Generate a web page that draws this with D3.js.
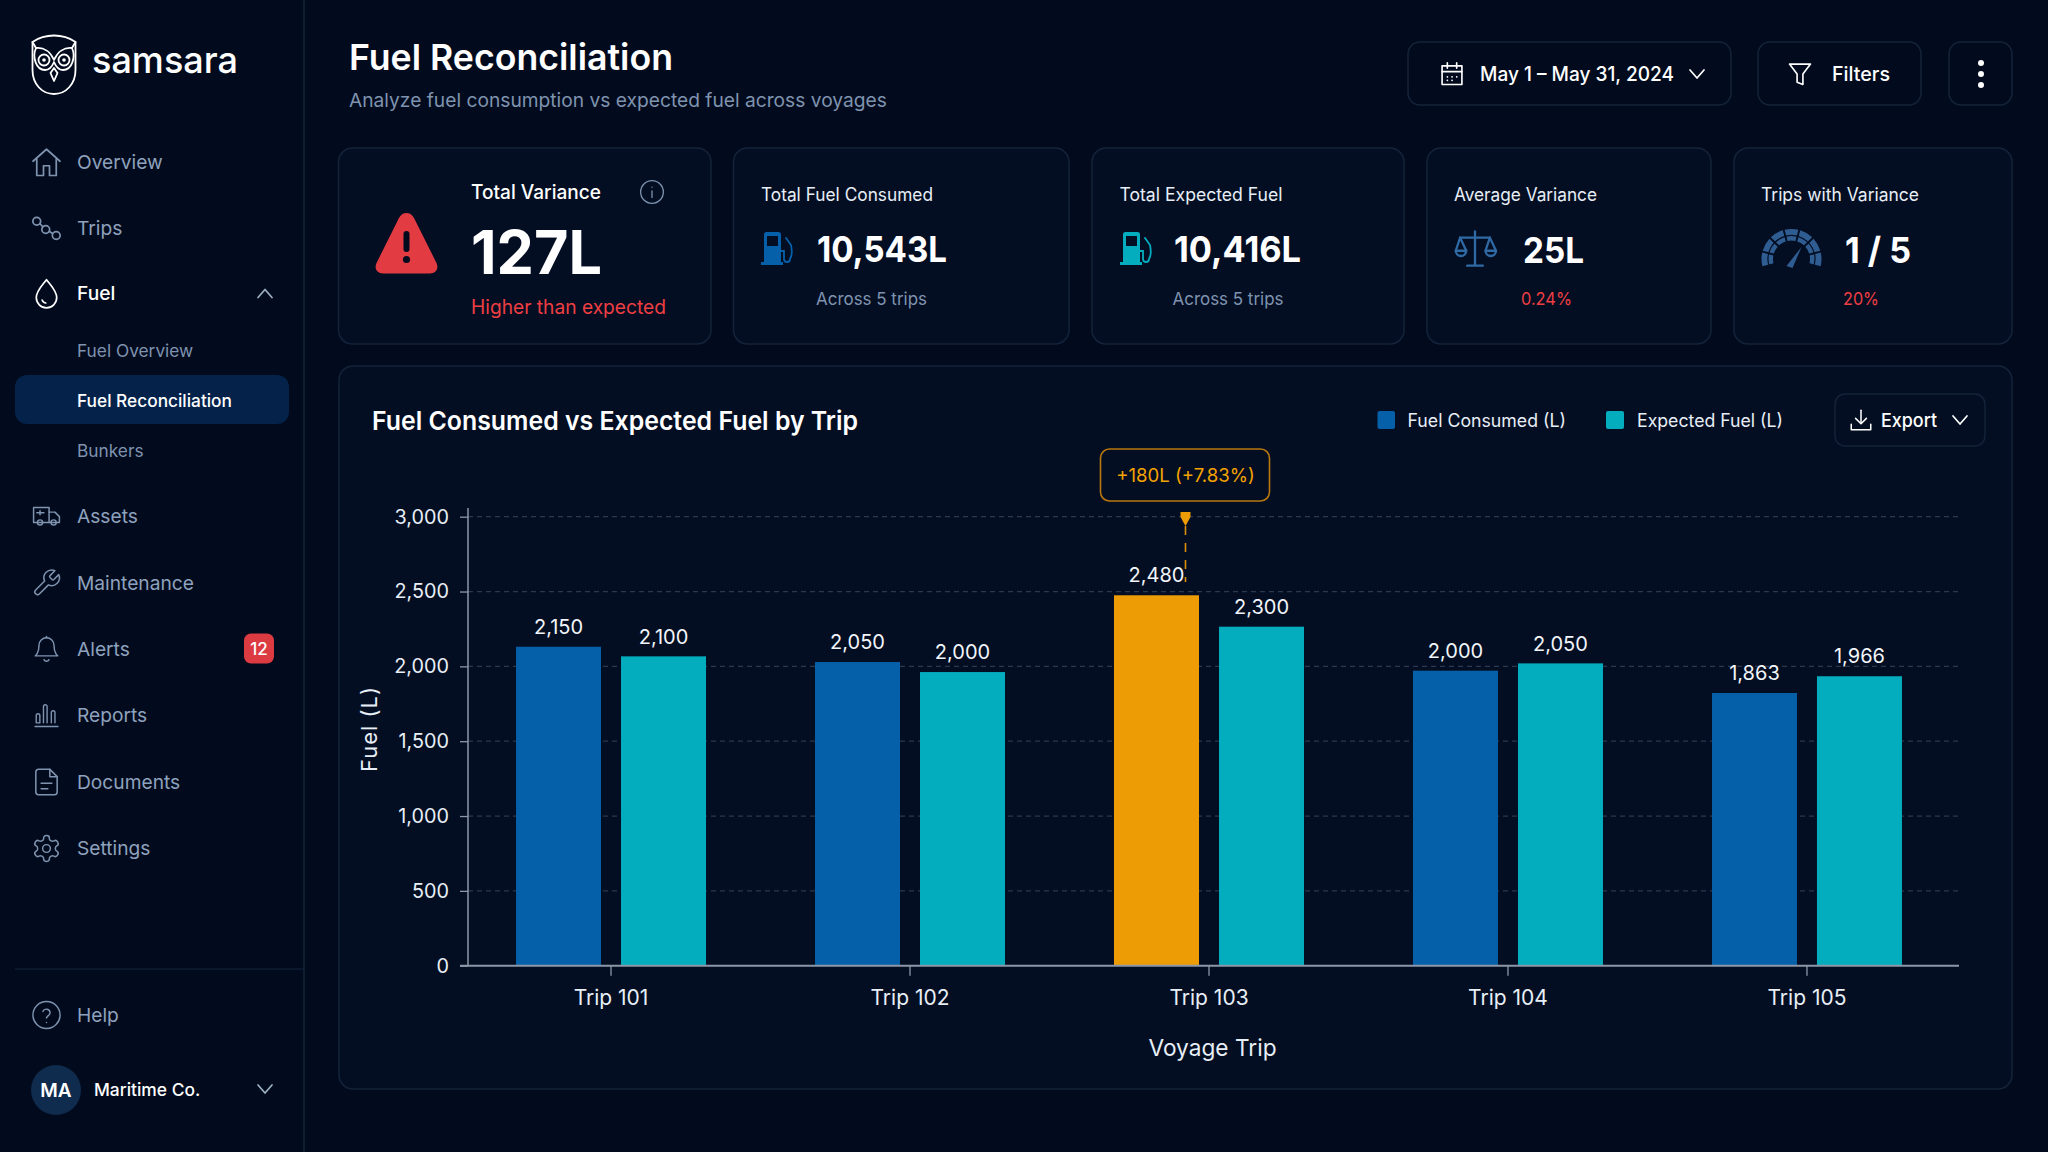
<!DOCTYPE html>
<html><head><meta charset="utf-8">
<script src="https://cdn.jsdelivr.net/npm/d3@7/dist/d3.min.js"></script>
<style>html,body{margin:0;padding:0;background:#020b1e;overflow:hidden}svg{display:block}text{font-family:Inter,"Noto Sans",sans-serif}</style>
</head><body><div id="app"></div>
<script>
// ---- chart data ----
const trips = ["Trip 101","Trip 102","Trip 103","Trip 104","Trip 105"];
const seriesNames = ["Fuel Consumed (L)","Expected Fuel (L)"];
// values printed above the bars
const consumedLabels = [2150,2050,2480,2000,1863];
const expectedLabels = [2100,2000,2300,2050,1966];
// bar heights as they are drawn in the picture, read against the y axis
const consumedDrawn = [2131,2029,2475,1971,1822];
const expectedDrawn = [2067,1962,2265,2020,1934];
const yTicks = [0,500,1000,1500,2000,2500,3000];
const highlightTrip = "Trip 103";
const annotation = "+180L (+7.83%)";
// ---- page text ----
const mainNav = ["Overview","Trips","Fuel","Assets","Maintenance","Alerts","Reports","Documents","Settings"];
const subNav = ["Fuel Overview","Fuel Reconciliation","Bunkers"];

const C={bg:"#020b1e",card:"#030e23",line:"#14233a",muted:"#7f93af",nav:"#8fa2bd",white:"#ffffff",text:"#e8eef6",
  blue:"#0560a9",teal:"#03adbe",amber:"#ee9c06",red:"#ef3e42",grid:"#2a394f",axis:"#8d97a8",icon:"#7f93af"};
const svg=d3.select("#app").append("svg").attr("width",2048).attr("height",1152).attr("viewBox","0 0 2048 1152");
svg.append("rect").attr("width",2048).attr("height",1152).attr("fill",C.bg);

function T(x,y,s,o={}){const t=svg.append("text").attr("x",x).attr("y",y).attr("dy",".36em").text(s)
  .attr("font-size",o.size||20).attr("font-weight",o.w||400).attr("fill",o.fill||C.text).attr("text-anchor",o.a||"start")
  .attr("letter-spacing",o.ls||null);
  if(o.tw) t.attr("textLength",o.tw).attr("lengthAdjust","spacingAndGlyphs");
  return t;}
function box(x0,y0,x1,y1,r,o={}){return svg.append("rect").attr("x",x0).attr("y",y0).attr("width",x1-x0).attr("height",y1-y0).attr("rx",r)
  .attr("fill",o.fill||C.card).attr("stroke",o.stroke||C.line).attr("stroke-width",o.sw||1.5);}
function icon(cx,cy,size,vb,parts,o={}){const k=size/vb;const g=svg.append("g").attr("transform",`translate(${cx-size/2},${cy-size/2}) scale(${k})`)
  .attr("fill",o.fill||"none").attr("stroke",o.stroke===undefined?C.icon:o.stroke).attr("stroke-width",o.sw||1.5).attr("stroke-linecap","round").attr("stroke-linejoin","round");
  parts.forEach(p=>{ if(typeof p==="string") g.append("path").attr("d",p); else g.append("circle").attr("cx",p[0]).attr("cy",p[1]).attr("r",p[2]);});return g;}
const chev=(cx,cy,up,col)=>svg.append("path").attr("d",up?`M${cx-7} ${cy+4}L${cx} ${cy-4}L${cx+7} ${cy+4}`:`M${cx-7} ${cy-4}L${cx} ${cy+4}L${cx+7} ${cy-4}`)
  .attr("fill","none").attr("stroke",col||C.nav).attr("stroke-width",1.7).attr("stroke-linecap","round").attr("stroke-linejoin","round");

// ---- sidebar ----
svg.append("line").attr("x1",304).attr("x2",304).attr("y1",0).attr("y2",1152).attr("stroke","#15243b").attr("stroke-width",1.5);
svg.append("line").attr("x1",15).attr("x2",304).attr("y1",969).attr("y2",969).attr("stroke","#15243b").attr("stroke-width",1.2);
// owl
const owl=svg.append("g").attr("fill","none").attr("stroke","#fff").attr("stroke-width",1.8).attr("stroke-linejoin","round").attr("stroke-linecap","round");
["M32.5 42C39 37.5 46 35.5 54 35.5C62 35.5 69 37.5 75.5 42L75.5 70C75.5 84 66 94 54 94C42 94 32.5 84 32.5 70Z",
 "M32.5 42L36 48C44 47 50.5 52 54 60C57.5 52 64 47 72 48L75.5 42",
 "M36 48C32 57 36 70 45 70C49 70 52 67 54 62C56 67 59 70 63 70C72 70 76 57 72 48",
 "M54 68L57.5 73L54 81L50.5 73Z"].forEach(d=>owl.append("path").attr("d",d));
[[44,60,5.5],[64,60,5.5]].forEach(c=>owl.append("circle").attr("cx",c[0]).attr("cy",c[1]).attr("r",c[2]));
[[44,60,1.8],[64,60,1.8]].forEach(c=>owl.append("circle").attr("cx",c[0]).attr("cy",c[1]).attr("r",c[2]).attr("fill","#fff").attr("stroke","none"));
T(92,60,"samsara",{size:37,w:500,fill:"#fff",tw:146}).attr("font-family","Lato");

const navY={Overview:162,Trips:228,Fuel:293.5,Assets:516,Maintenance:583,Alerts:649,Reports:715,Documents:782,Settings:848.5};
const navSize={Overview:36,Trips:36,Fuel:35,Assets:31,Maintenance:31,Alerts:30,Reports:29,Documents:32,Settings:31};
const navIcons={
 Overview:["M3 11.5L12 3.5L21 11.5","M5.5 10V21H10V14.5H14V21H18.5V10"],
 Trips:[[5.5,7.5,2.6],[18.5,17,2.6],[11.5,13,2.6],"M7.6 9L9.6 11.3","M13.8 14.2L16 15.6"],
 Fuel:["M12 2.5C15 6.5 19 10.2 19 14.8A7 7 0 0 1 5 14.8C5 10.2 9 6.5 12 2.5Z","M9 16.5C9.5 17.8 10.5 18.5 11.5 18.5"],
 Assets:["M2 5.5H14V17H2Z","M14 9H18.5L22 12.5V17H14","M4.5 9.5H10","M7 8V11"," M5 17a2 2 0 1 0 4 0a2 2 0 1 0-4 0"," M15.5 17a2 2 0 1 0 4 0a2 2 0 1 0-4 0"],
 Maintenance:["M14.7 6.3a1 1 0 0 0 0 1.4l1.6 1.6a1 1 0 0 0 1.4 0l3.77-3.77a6 6 0 0 1-7.94 7.94l-6.91 6.91a2.12 2.12 0 0 1-3-3l6.91-6.91a6 6 0 0 1 7.94-7.94l-3.76 3.76z"],
 Alerts:["M6 9a6 6 0 0 1 12 0c0 6.5 3 8.5 3 8.5H3s3-2 3-8.5","M10 20.5a2.2 2.2 0 0 0 4 0","M12 3V2"],
 Reports:["M2.5 21.5H21.5","M3.5 18.5V12.5a1.5 1.5 0 0 1 3 0V18.5H3.5","M9.5 18.5V5a1.5 1.5 0 0 1 3 0V18.5","M16 18.5V10a1.5 1.5 0 0 1 3 0V18.5"],
 Documents:["M14.5 2.5H6a2 2 0 0 0-2 2v15a2 2 0 0 0 2 2h12a2 2 0 0 0 2-2V8L14.5 2.5Z","M14.5 2.5V8H20","M8 13H16","M8 17H13"],
 Settings:["M12.22 2h-.44a2 2 0 0 0-2 2v.18a2 2 0 0 1-1 1.73l-.43.25a2 2 0 0 1-2 0l-.15-.08a2 2 0 0 0-2.73.73l-.22.38a2 2 0 0 0 .73 2.73l.15.1a2 2 0 0 1 1 1.72v.51a2 2 0 0 1-1 1.74l-.15.09a2 2 0 0 0-.73 2.73l.22.38a2 2 0 0 0 2.73.73l.15-.08a2 2 0 0 1 2 0l.43.25a2 2 0 0 1 1 1.73V20a2 2 0 0 0 2 2h.44a2 2 0 0 0 2-2v-.18a2 2 0 0 1 1-1.73l.43-.25a2 2 0 0 1 2 0l.15.08a2 2 0 0 0 2.73-.73l.22-.39a2 2 0 0 0-.73-2.73l-.15-.08a2 2 0 0 1-1-1.74v-.5a2 2 0 0 1 1-1.74l.15-.09a2 2 0 0 0 .73-2.73l-.22-.38a2 2 0 0 0-2.73-.73l-.15.08a2 2 0 0 1-2 0l-.43-.25a2 2 0 0 1-1-1.73V4a2 2 0 0 0-2-2z",[12,12,3]]
};
box(15,375,289,424,12,{fill:"#04224a",stroke:"none"});
mainNav.forEach(n=>{const act=n==="Fuel";T(77,navY[n],n,{size:19.2,w:act?500:400,fill:act?"#fff":C.nav});
  icon(46.5,navY[n],navSize[n],24,navIcons[n],{stroke:act?"#fff":C.icon,sw:1.15});});
chev(265,293.5,true,"#9fb0c6");
subNav.forEach((n,i)=>{const act=i===1;T(77,[350.7,400.3,450.3][i],n,{size:17.3,w:act?500:400,fill:act?"#fff":C.muted});});
box(244,633.5,274,663.5,7,{fill:"#dc3b42",stroke:"none"});T(259,648.5,"12",{size:17,w:500,fill:"#fff",a:"middle"});
icon(46.5,1015,31,24,[[12,12,10.5],"M9.2 9.3a2.9 2.9 0 0 1 5.6 1c0 2-2.8 2.6-2.8 4","M12 17.7V17.8"],{sw:1.1});
T(77,1015.5,"Help",{size:19.2,fill:C.nav});
svg.append("circle").attr("cx",56).attr("cy",1090).attr("r",25).attr("fill","#0f2b4d");
T(56,1090,"MA",{size:19,w:600,fill:"#fff",a:"middle"});
T(94,1090,"Maritime Co.",{size:17.4,w:500,fill:"#fff"});
chev(265,1089,false,"#9fb0c6");

// ---- header ----
T(349,57,"Fuel Reconciliation",{size:36,w:600,fill:"#fff",tw:324});
T(349,100.5,"Analyze fuel consumption vs expected fuel across voyages",{size:19.2,fill:C.muted});
box(1408,42,1731,105,12,{fill:"none"});box(1758,42,1921,105,12,{fill:"none"});box(1949,42,2012,105,12,{fill:"none"});
icon(1452,74,28,24,["M3.5 5H20.5V21H3.5Z","M3.5 10H20.5","M8 2.5V7","M16 2.5V7","M8 14.5H8.1","M12 14.5H12.1","M16 14.5H16.1","M8 17.5H8.1","M12 17.5H12.1"],{stroke:"#fff",sw:1.4});
T(1480,74,"May 1 – May 31, 2024",{size:20,w:500,fill:"#fff",tw:194});chev(1697,74,false,"#fff");
icon(1800,74,28,24,["M3 3.5H21L14.5 12V21L9.5 19V12Z"],{stroke:"#fff",sw:1.4});
T(1832,74,"Filters",{size:20,w:500,fill:"#fff",tw:58});
[63,74,85].forEach(y=>svg.append("circle").attr("cx",1981).attr("cy",y).attr("r",3).attr("fill","#fff"));

// ---- KPI cards ----
const kpiBoxes=[[338.5,711],[733.5,1069],[1092,1404],[1427,1711],[1734,2012]];
kpiBoxes.forEach(b=>box(b[0],148,b[1],344,14));
T(471,192,"Total Variance",{size:19.5,w:500,fill:"#fff",tw:130});
icon(652,192,26,24,[[12,12,10.5],"M12 11V17","M12 7.5V7.6"],{sw:1.2});
T(471,252,"127L",{size:60,w:700,fill:"#fff",tw:131});
T(471,307,"Higher than expected",{size:19.5,fill:C.red,tw:195});
svg.append("path").attr("d","M406.5 213C402 213 399.5 216.5 397.5 221L376.5 263C374 268.5 377 273.5 383 273.5H430C436 273.5 439 268.5 436.5 263L415.5 221C413.5 216.5 411 213 406.5 213Z").attr("fill","#e23c42");
svg.append("rect").attr("x",403.5).attr("y",231).attr("width",6).attr("height",21).attr("rx",3).attr("fill","#020b1e");
svg.append("circle").attr("cx",406.5).attr("cy",259.5).attr("r",3.6).attr("fill","#020b1e");

function pump(x,col){const g=svg.append("g").attr("transform",`translate(${x},232)`);
  g.append("path").attr("fill",col).attr("fill-rule","evenodd").attr("d","M3 2.5A2.5 2.5 0 0 1 5.5 0H17.5A2.5 2.5 0 0 1 20 2.5V30H22V33H0V30H3ZM6 4V14H17V4Z");
  g.append("path").attr("fill","none").attr("stroke",col).attr("stroke-width",1.8).attr("stroke-linecap","round").attr("d","M20 19H23V27A2.5 2.5 0 0 0 29 27C31 24 31 18 30 13L25 6");}
T(761,195,"Total Fuel Consumed",{size:18,fill:"#e8eef6",tw:172});pump(761,C.blue);
T(817,249,"10,543L",{size:36,w:700,fill:"#fff",tw:130});T(816,299,"Across 5 trips",{size:17.5,fill:C.muted,tw:111});
T(1119.5,195,"Total Expected Fuel",{size:18,fill:"#e8eef6",tw:163});pump(1120,C.teal);
T(1174,249,"10,416L",{size:36,w:700,fill:"#fff",tw:127});T(1172.5,299,"Across 5 trips",{size:17.5,fill:C.muted,tw:111});
T(1454,195,"Average Variance",{size:18,fill:"#e8eef6",tw:143});
icon(1475,249,42,24,["M12 2V21","M7.5 21.5H16.5","M3.5 5.5H20.5","M3.5 5.5L1 13A2.8 2.8 0 0 0 7 13L3.5 5.5","M20.5 5.5L18 13A2.8 2.8 0 0 0 24 13L20.5 5.5"," M1 13H7M18 13H24"],{stroke:"#2f6aa5",sw:1.3});
T(1523,250,"25L",{size:36,w:700,fill:"#fff",tw:61});T(1521,299,"0.24%",{size:17.5,fill:C.red,tw:51});
T(1761,195,"Trips with Variance",{size:18,fill:"#e8eef6",tw:158});
// gauge
const arcG=d3.arc().innerRadius(18.5).outerRadius(30).padAngle(.055);
const gaugeN=7,gaugeA=1.85;
const gaugeSegs=d3.range(gaugeN).map(i=>({startAngle:-gaugeA+i*2*gaugeA/gaugeN,endAngle:-gaugeA+(i+1)*2*gaugeA/gaugeN}));
const gg=svg.append("g").attr("transform","translate(1791.5,259)");
gaugeSegs.forEach(s=>gg.append("path").attr("d",arcG(s)).attr("fill","#2f5d91"));
gg.append("circle").attr("r",23.5).attr("fill","none").attr("stroke","#030e23").attr("stroke-width",1.2).attr("stroke-dasharray","111 40").attr("transform","rotate(165)");
gg.append("path").attr("d","M-5 7L10 -12L1 9Z").attr("fill","#2f5d91");
T(1845,250,"1 / 5",{size:36,w:700,fill:"#fff",tw:66});T(1843,299,"20%",{size:17.5,fill:C.red,tw:36});

// ---- chart card ----
box(339,366,2012,1089,14);
T(372,421,"Fuel Consumed vs Expected Fuel by Trip",{size:26,w:600,fill:"#fff",tw:486});
svg.append("rect").attr("x",1377.5).attr("y",411).attr("width",17.5).attr("height",18).attr("rx",2).attr("fill",C.blue);
T(1407.5,421,seriesNames[0],{size:18,fill:"#e8eef6",tw:158.5});
svg.append("rect").attr("x",1606).attr("y",411).attr("width",18).attr("height",18).attr("rx",2).attr("fill",C.teal);
T(1637,421,seriesNames[1],{size:18,fill:"#e8eef6",tw:146});
box(1835,394,1985,446,10,{fill:"none"});
icon(1861,420,26,24,["M12 3V15","M7 10.5L12 15.5L17 10.5","M3 16V21H21V16"],{stroke:"#fff",sw:1.4});
T(1881,420,"Export",{size:19,w:500,fill:"#fff",tw:56});chev(1960,420,false,"#fff");

const y=d3.scaleLinear().domain([0,3000]).range([965.7,516.7]);
const x0=d3.scaleBand().domain(trips).range([468,1958]).paddingInner(.3645).paddingOuter(.174).align(.4615);
const x1=d3.scaleBand().domain(seriesNames).range([0,x0.bandwidth()]).paddingInner(20/105).paddingOuter(0);

const gridG=svg.append("g");
gridG.selectAll("line").data(yTicks.filter(d=>d>0)).join("line").attr("x1",468).attr("x2",1959).attr("y1",y).attr("y2",y)
  .attr("stroke",C.grid).attr("stroke-width",1.3).attr("stroke-dasharray","5 4");

const rows=trips.map((t,i)=>[
 {trip:t,s:seriesNames[0],h:consumedDrawn[i],v:consumedLabels[i]},
 {trip:t,s:seriesNames[1],h:expectedDrawn[i],v:expectedLabels[i]}]).flat();
const fmt=d3.format(",");
svg.append("g").selectAll("rect").data(rows).join("rect")
  .attr("x",d=>x0(d.trip)+x1(d.s)).attr("width",x1.bandwidth()).attr("y",d=>y(d.h)).attr("height",d=>y(0)-y(d.h))
  .attr("fill",d=>d.s===seriesNames[1]?C.teal:(d.trip===highlightTrip?C.amber:C.blue));
svg.append("g").selectAll("text").data(rows).join("text")
  .attr("x",d=>x0(d.trip)+x1(d.s)+x1.bandwidth()/2).attr("y",d=>y(d.h)-20).attr("dy",".36em").attr("text-anchor","middle")
  .attr("font-size",20).attr("fill","#f2f5f9").text(d=>fmt(d.v));

// axes
const yAxis=d3.axisLeft(y).tickValues(yTicks).tickFormat(fmt).tickSize(8).tickPadding(11);
const ya=svg.append("g").attr("transform","translate(468,0)").call(yAxis);
ya.select(".domain").remove();
ya.selectAll("line").attr("stroke",C.axis).attr("stroke-width",1.3);
ya.selectAll("text").attr("font-size",19.8).attr("fill",C.text).attr("font-family","Inter");
svg.append("line").attr("x1",468).attr("x2",468).attr("y1",508).attr("y2",966).attr("stroke",C.axis).attr("stroke-width",1.5);
const xAxis=d3.axisBottom(x0).tickSize(10).tickPadding(14);
const xa=svg.append("g").attr("transform","translate(0,965.7)").call(xAxis);
xa.select(".domain").remove();
xa.selectAll("line").attr("stroke",C.axis).attr("stroke-width",1.3);
xa.selectAll("text").attr("font-size",21).attr("fill",C.text).attr("font-family","Inter");
svg.append("line").attr("x1",460).attr("x2",1959).attr("y1",965.7).attr("y2",965.7).attr("stroke",C.axis).attr("stroke-width",2);
T(1212.5,1047.5,"Voyage Trip",{size:23.5,a:"middle",fill:"#e8eef6",tw:128});
svg.append("text").attr("transform","translate(369,729) rotate(-90)").attr("dy",".36em").attr("text-anchor","middle").attr("font-size",22).attr("fill",C.text).attr("letter-spacing","1").text("Fuel (L)");

// annotation on the highlighted trip
const ax=x0(highlightTrip)+x0.bandwidth()/2-23.5;
box(ax-85,449,ax+84,501,9,{fill:"none",stroke:"#b8780f",sw:1.6});
T(ax,475,annotation,{size:18.6,fill:"#f5a300",a:"middle"});
svg.append("line").attr("x1",ax).attr("x2",ax).attr("y1",526).attr("y2",582).attr("stroke","#d98f0a").attr("stroke-width",1.6).attr("stroke-dasharray","9 8");
svg.append("path").attr("d",`M${ax-5} 512H${ax+5}V517L${ax} 526L${ax-5} 517Z`).attr("fill","#ee9c06");
</script></body></html>
